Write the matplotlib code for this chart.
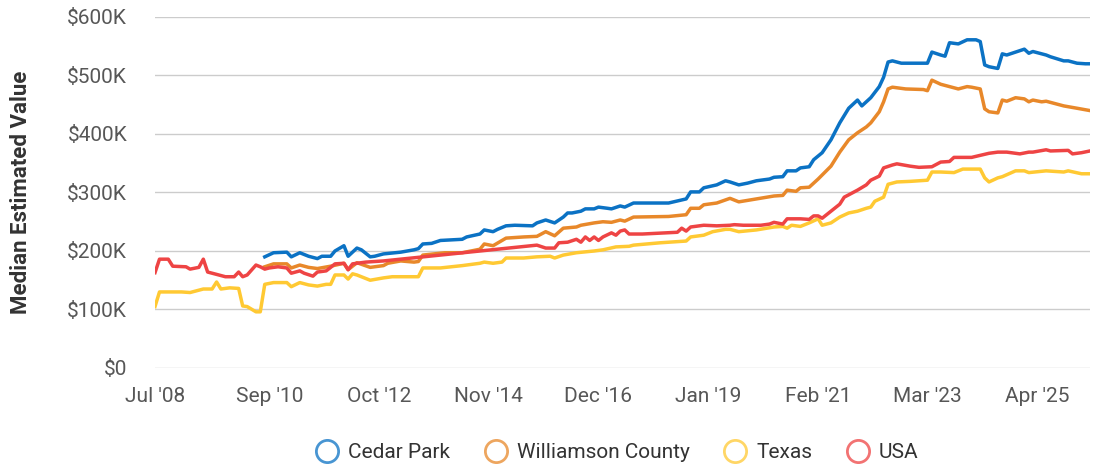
import matplotlib
matplotlib.use("Agg")
import matplotlib.pyplot as plt
from matplotlib.lines import Line2D
import pandas as pd

plt.rcParams['font.family'] = ['Roboto', 'DejaVu Sans']

# values in $K, monthly readings
cedar_dates = ['2010-08', '2010-10', '2011-01', '2011-02', '2011-04', '2011-06', '2011-08', '2011-09',
               '2011-11', '2011-12', '2012-02', '2012-03', '2012-05', '2012-06', '2012-08', '2012-09',
               '2012-11', '2013-03', '2013-06', '2013-07', '2013-08', '2013-10', '2013-12', '2014-05',
               '2014-06', '2014-09', '2014-10', '2014-12', '2015-01', '2015-03', '2015-05', '2015-09',
               '2015-10', '2015-12', '2016-02', '2016-04', '2016-05', '2016-06', '2016-08', '2016-09',
               '2016-11', '2016-12', '2017-02', '2017-03', '2017-05', '2017-06', '2017-08', '2018-04',
               '2018-08', '2018-09', '2018-11', '2018-12', '2019-03', '2019-05', '2019-06', '2019-08',
               '2019-10', '2019-12', '2020-03', '2020-04', '2020-06', '2020-07', '2020-09', '2020-10',
               '2020-12', '2021-01', '2021-03', '2021-05', '2021-07', '2021-09', '2021-11', '2021-12',
               '2022-02', '2022-04', '2022-05', '2022-06', '2022-07', '2022-09', '2023-03', '2023-04',
               '2023-06', '2023-07', '2023-08', '2023-10', '2023-12', '2024-02', '2024-03', '2024-04',
               '2024-05', '2024-07', '2024-08', '2024-09', '2024-11', '2025-01', '2025-02', '2025-03',
               '2025-06', '2025-07', '2025-10', '2025-11', '2026-01', '2026-03', '2026-04']
cedar_vals = [190, 197, 198, 190, 197, 191, 187, 191,
              191, 200, 209, 191, 205, 202, 190, 191,
              195, 198, 202, 204, 212, 213, 218, 220,
              224, 229, 236, 233, 237, 243, 244, 243,
              248, 253, 248, 258, 265, 265, 268, 272,
              272, 275, 273, 272, 277, 275, 282, 282,
              289, 301, 301, 308, 313, 320, 318, 313,
              316, 320, 323, 326, 327, 337, 337, 342,
              344, 356, 368, 390, 419, 444, 458, 448,
              462, 481, 497, 523, 525, 521, 521, 540,
              535, 533, 556, 554, 561, 561, 558, 518,
              515, 512, 537, 535, 540, 545, 538, 541,
              535, 532, 525, 525, 521, 520, 520]

wilco_dates = ['2010-08', '2010-10', '2011-01', '2011-02', '2011-04', '2011-06', '2011-08', '2011-11',
               '2012-02', '2012-03', '2012-05', '2012-08', '2012-10', '2012-11', '2012-12', '2013-03',
               '2013-06', '2013-07', '2013-08', '2014-01', '2014-05', '2014-09', '2014-10', '2014-12',
               '2015-03', '2015-07', '2015-10', '2015-12', '2016-02', '2016-04', '2016-07', '2016-08',
               '2016-11', '2017-01', '2017-03', '2017-05', '2017-06', '2017-08', '2018-04', '2018-08',
               '2018-09', '2018-11', '2018-12', '2019-03', '2019-06', '2019-08', '2019-12', '2020-04',
               '2020-06', '2020-07', '2020-09', '2020-10', '2020-12', '2021-02', '2021-05', '2021-07',
               '2021-09', '2021-11', '2022-01', '2022-02', '2022-04', '2022-05', '2022-06', '2022-07',
               '2022-10', '2023-02', '2023-03', '2023-04', '2023-06', '2023-10', '2023-12', '2024-01',
               '2024-03', '2024-04', '2024-05', '2024-07', '2024-08', '2024-09', '2024-11', '2025-01',
               '2025-02', '2025-03', '2025-05', '2025-06', '2025-10', '2026-01', '2026-04']
wilco_vals = [173, 178, 178, 171, 176, 172, 170, 174,
              179, 168, 180, 172, 174, 175, 179, 183,
              181, 182, 193, 197, 197, 203, 212, 209,
              222, 224, 225, 233, 226, 239, 241, 244,
              248, 250, 249, 253, 251, 258, 259, 262,
              273, 273, 279, 282, 290, 284, 289, 294,
              295, 304, 302, 308, 309, 323, 345, 369,
              390, 402, 412, 419, 438, 455, 477, 480,
              477, 476, 474, 492, 485, 477, 481, 480,
              477, 443, 438, 436, 458, 456, 462, 460,
              455, 458, 455, 456, 448, 444, 440]

texas_dates = ['2008-07', '2008-08', '2009-01', '2009-03', '2009-06', '2009-08', '2009-09', '2009-10',
               '2009-12', '2010-02', '2010-03', '2010-04', '2010-06', '2010-07', '2010-08', '2010-10',
               '2011-01', '2011-02', '2011-04', '2011-06', '2011-08', '2011-10', '2011-11', '2011-12',
               '2012-02', '2012-03', '2012-04', '2012-05', '2012-08', '2012-11', '2013-01', '2013-07',
               '2013-08', '2013-12', '2014-05', '2014-09', '2014-10', '2014-12', '2015-02', '2015-03',
               '2015-07', '2015-10', '2016-01', '2016-02', '2016-04', '2016-07', '2016-11', '2017-01',
               '2017-04', '2017-07', '2017-08', '2018-02', '2018-08', '2018-09', '2018-12', '2019-02',
               '2019-05', '2019-06', '2019-08', '2019-12', '2020-04', '2020-06', '2020-07', '2020-08',
               '2020-10', '2020-12', '2021-02', '2021-03', '2021-05', '2021-07', '2021-09', '2021-11',
               '2022-01', '2022-02', '2022-03', '2022-05', '2022-06', '2022-08', '2022-11', '2023-03',
               '2023-04', '2023-06', '2023-09', '2023-11', '2024-03', '2024-04', '2024-05', '2024-07',
               '2024-08', '2024-11', '2025-01', '2025-02', '2025-06', '2025-10', '2025-11', '2026-02',
               '2026-04']
texas_vals = [105, 130, 130, 129, 135, 135, 147, 135,
              137, 136, 106, 105, 96, 96, 143, 146,
              146, 139, 146, 142, 140, 143, 143, 159,
              159, 152, 161, 159, 150, 154, 156, 156,
              171, 171, 175, 179, 181, 179, 181, 188,
              188, 190, 191, 188, 193, 197, 200, 202,
              207, 208, 210, 214, 217, 224, 227, 233,
              237, 237, 233, 236, 241, 242, 239, 244,
              242, 248, 255, 244, 248, 258, 265, 268,
              273, 275, 285, 292, 314, 318, 319, 321,
              335, 335, 334, 340, 340, 325, 318, 325,
              327, 337, 337, 334, 337, 335, 337, 332,
              332]

usa_dates = ['2008-07', '2008-08', '2008-10', '2008-11', '2009-02', '2009-03', '2009-05', '2009-06',
             '2009-07', '2009-09', '2009-11', '2010-01', '2010-02', '2010-03', '2010-04', '2010-06',
             '2010-07', '2010-08', '2010-09', '2010-11', '2011-01', '2011-02', '2011-04', '2011-05',
             '2011-07', '2011-08', '2011-10', '2011-11', '2011-12', '2012-02', '2012-03', '2012-04',
             '2012-07', '2012-11', '2015-10', '2015-12', '2016-02', '2016-03', '2016-05', '2016-07',
             '2016-08', '2016-09', '2016-10', '2016-11', '2016-12', '2017-01', '2017-03', '2017-04',
             '2017-05', '2017-06', '2017-07', '2017-10', '2018-06', '2018-07', '2018-08', '2018-09',
             '2018-12', '2019-03', '2019-06', '2019-07', '2019-09', '2020-01', '2020-03', '2020-04',
             '2020-06', '2020-07', '2020-10', '2020-12', '2021-01', '2021-02', '2021-03', '2021-05',
             '2021-07', '2021-08', '2021-09', '2021-11', '2022-01', '2022-02', '2022-04', '2022-05',
             '2022-07', '2022-08', '2022-11', '2023-01', '2023-04', '2023-06', '2023-08', '2023-09',
             '2024-01', '2024-05', '2024-07', '2024-09', '2024-12', '2025-02', '2025-03', '2025-06',
             '2025-07', '2025-11', '2025-12', '2026-02', '2026-04']
usa_vals = [163, 186, 186, 174, 173, 169, 172, 186,
            164, 160, 156, 156, 164, 156, 159, 176,
            173, 169, 171, 173, 171, 162, 166, 162,
            157, 164, 166, 172, 178, 179, 168, 178,
            181, 183, 210, 205, 205, 214, 215, 220,
            215, 224, 218, 224, 218, 224, 231, 227,
            234, 236, 229, 229, 232, 239, 234, 241,
            244, 243, 244, 245, 244, 244, 246, 249,
            246, 255, 255, 254, 260, 260, 256, 268,
            280, 292, 296, 304, 313, 321, 328, 342,
            347, 349, 345, 343, 344, 352, 353, 360,
            360, 367, 369, 369, 366, 369, 369, 373,
            371, 372, 366, 368, 371]

series_names = ['Cedar Park', 'Williamson County', 'Texas', 'USA']
series_colors = ['#0B72C4', '#E8882A', '#FFC933', '#EE4444']

tick_dates = ['2008-07', '2010-09', '2012-10', '2014-11', '2016-12', '2019-01', '2021-02', '2023-03', '2025-04']
tick_labels = ["Jul '08", "Sep '10", "Oct '12", "Nov '14", "Dec '16", "Jan '19", "Feb '21", "Mar '23", "Apr '25"]
y_ticks = [0, 100, 200, 300, 400, 500, 600]
y_labels = ['$0', '$100K', '$200K', '$300K', '$400K', '$500K', '$600K']

fig = plt.figure(figsize=(10.97, 4.68), dpi=100)
ax = fig.add_axes([0.1413, 0.2137, 0.8523, 0.75])

data = [(cedar_dates, cedar_vals), (wilco_dates, wilco_vals),
        (texas_dates, texas_vals), (usa_dates, usa_vals)]
for (d, v), name, c in zip(data, series_names, series_colors):
    ax.plot(pd.to_datetime(d), v, color=c, lw=2.5, label=name, solid_joinstyle='round')

ax.set_xlim(pd.Timestamp('2008-07-01'), pd.Timestamp('2026-04-01'))
ax.set_ylim(0, 600)
ax.set_xticks(pd.to_datetime(tick_dates))
ax.set_xticklabels(tick_labels)
ax.set_yticks(y_ticks)
ax.set_yticklabels(y_labels)
ax.tick_params(axis='both', length=0, labelsize=15, labelcolor='#575757')
ax.tick_params(axis='x', pad=14)
ax.tick_params(axis='y', pad=20)
ax.grid(axis='y', color='#cccccc', lw=1)
ax.set_axisbelow(True)
for s in ax.spines.values():
    s.set_visible(False)

fig.text(0.019, 0.59, 'Median Estimated Value', rotation=90, ha='center', va='center',
         fontsize=16, fontweight='bold', color='#333333')

handles = [Line2D([], [], ls='none', marker='o', markersize=16, markerfacecolor='none',
                  markeredgecolor=c, markeredgewidth=2, alpha=0.75) for c in series_colors]
fig.legend(handles, series_names, loc='center', bbox_to_anchor=(0.563, 0.033), ncol=4,
           frameon=False, fontsize=15, handlelength=1.0, handletextpad=0.5,
           columnspacing=1.7, labelcolor='#333333')

fig.savefig('out.png', dpi=100)
